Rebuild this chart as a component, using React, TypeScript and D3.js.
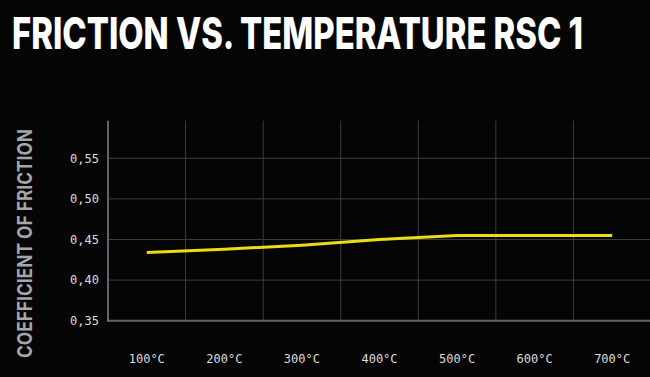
import React, { useLayoutEffect, useRef, useState } from "react";
import * as d3 from "d3";

const categories = ["100°C", "200°C", "300°C", "400°C", "500°C", "600°C", "700°C"];
const frictionValues = [0.434, 0.438, 0.443, 0.45, 0.455, 0.455, 0.455];
const yTicks = [0.35, 0.4, 0.45, 0.5, 0.55];
const titleText = "FRICTION VS. TEMPERATURE RSC 1";
const yAxisTitle = "COEFFICIENT OF FRICTION";

const W = 650;
const H = 377;
const plotLeft = 108;
const plotRight = 651;
const plotBottom = 320.7;
const plotTop = 120.7;

function FitText(props: {
  text: string;
  width: number;
  tx: number;
  ty: number;
  rotate?: number;
  anchor: "start" | "middle";
  fill: string;
  fontSize: number;
  fontWeight: number;
}) {
  const ref = useRef<SVGTextElement>(null);
  const [sx, setSx] = useState(0.75);
  useLayoutEffect(() => {
    if (ref.current) {
      const w = ref.current.getComputedTextLength();
      if (w > 0) setSx(props.width / w);
    }
  }, [props.text, props.width]);
  const rot = props.rotate ? ` rotate(${props.rotate})` : "";
  return (
    <text
      ref={ref}
      transform={`translate(${props.tx},${props.ty})${rot} scale(${sx},1)`}
      textAnchor={props.anchor}
      fill={props.fill}
      fontFamily="Inter, 'Noto Sans', sans-serif"
      fontWeight={props.fontWeight}
      fontSize={props.fontSize}
    >
      {props.text}
    </text>
  );
}

export default function App() {
  const x = d3.scaleBand<string>().domain(categories).range([plotLeft, plotRight]).paddingInner(0).paddingOuter(0);
  const y = d3.scaleLinear().domain([0.35, 0.55]).range([plotBottom, 158.3]);
  const fmt = (v: number) => d3.format(".2f")(v).replace(".", ",");
  const line = d3
    .line<number>()
    .x((_, i) => (x(categories[i]) as number) + x.bandwidth() / 2)
    .y((d) => y(d));

  return (
    <svg width={W} height={H} style={{ position: "absolute", left: 0, top: 0, display: "block" }}>
      <rect x={0} y={0} width={W} height={H} fill="#050505" />
      <FitText text={titleText} width={571} tx={12} ty={49} anchor="start" fill="#ffffff" fontSize={44} fontWeight={800} />
      {/* horizontal grid */}
      {yTicks.slice(1).map((t) => (
        <line key={"h" + t} x1={plotLeft} x2={W} y1={y(t)} y2={y(t)} stroke="#393d44" strokeWidth={1} />
      ))}
      {/* vertical grid */}
      {categories.slice(1).map((c) => (
        <line
          key={"v" + c}
          x1={x(c) as number}
          x2={x(c) as number}
          y1={plotTop}
          y2={plotBottom}
          stroke="#393d44"
          strokeWidth={1}
        />
      ))}
      {/* axes */}
      <line x1={plotLeft} x2={plotLeft} y1={plotTop} y2={plotBottom + 1} stroke="#606368" strokeWidth={2} />
      <line x1={plotLeft - 1} x2={W} y1={plotBottom} y2={plotBottom} stroke="#606368" strokeWidth={2} />
      {/* y tick labels */}
      {yTicks.map((t) => (
        <text
          key={"yt" + t}
          x={99}
          y={y(t)}
          dy="0.36em"
          textAnchor="end"
          fill="#dcdcdc"
          fontFamily="'DejaVu Sans Mono', monospace"
          fontSize={12}
        >
          {fmt(t)}
        </text>
      ))}
      {/* x tick labels */}
      {categories.map((c) => (
        <text
          key={"xt" + c}
          x={(x(c) as number) + x.bandwidth() / 2}
          y={363}
          textAnchor="middle"
          fill="#dcdcdc"
          fontFamily="'DejaVu Sans Mono', monospace"
          fontSize={12}
        >
          {c}
        </text>
      ))}
      {/* y axis title */}
      <FitText
        text={yAxisTitle}
        width={229}
        tx={31.5}
        ty={243.5}
        rotate={-90}
        anchor="middle"
        fill="#a3a6aa"
        fontSize={20}
        fontWeight={700}
      />
      {/* data line */}
      <path d={line(frictionValues) || ""} fill="none" stroke="#ecdc14" strokeWidth={3} strokeLinecap="butt" />
    </svg>
  );
}
